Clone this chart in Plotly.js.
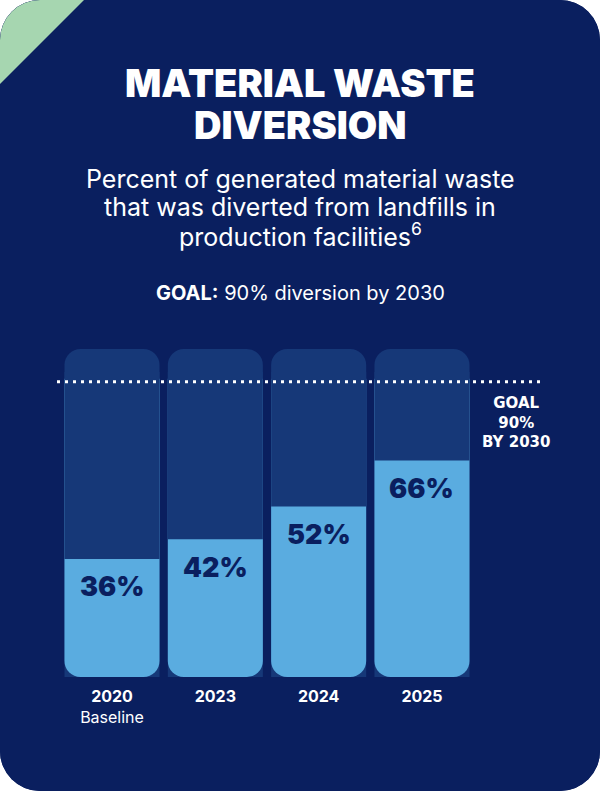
<!DOCTYPE html>
<html>
<head>
<meta charset="utf-8">
<script src="https://cdn.plot.ly/plotly-3.0.1.min.js"></script>
<style>
  html, body { margin: 0; padding: 0; background: #ffffff; }
  #card {
    width: 600px; height: 791px;
    border-radius: 40px; overflow: hidden;
    background: #0a1f5f;
  }
  #chart { width: 600px; height: 791px; }
</style>
</head>
<body>
<div id="card"><div id="chart"></div></div>
<script>
// Share of generated material waste diverted from landfill, by year
const years = ['2020', '2023', '2024', '2025'];
const tickLabels = ['<b>2020</b><br>Baseline', '<b>2023</b>', '<b>2024</b>', '<b>2025</b>'];
const diversionPct = [36, 42, 52, 66];
const fullScale = [100, 100, 100, 100];
const goalPct = 90;

const NAVY = '#0a1f5f';
const TRACK = '#163878';
const FILL = '#5aace0';
const GREEN = '#a6d6b0';
const W = 600, H = 791;
const py = px => 1 - px / H;   // pixel row -> paper y
const pxX = px => px / W;      // pixel column -> paper x
const PLOT_DOMAIN = [py(677), py(349)];
const BODY_HEADROOM = 10;      // y2 extends this far above its zero line
const COVER_TOP = 93;          // square cover stops below the rounded track top

// Layer 1 (y): full-height dark track, rounded at the top
const track = {
  type: 'bar', x: years, yaxis: 'y', y: fullScale,
  marker: { color: TRACK, cornerradius: 16, line: { width: 0 } },
  hoverinfo: 'skip', showlegend: false
};

// Layer 2 (y2): light column body hanging from y2's zero line to the floor,
// so each bar's rounded end is the bottom
const body = {
  type: 'bar', x: years, yaxis: 'y2',
  y: fullScale.map(v => -v),
  marker: { color: FILL, cornerradius: 16, line: { width: 0 } },
  customdata: diversionPct,
  hovertemplate: '%{x}: %{customdata}% diverted<extra></extra>',
  showlegend: false
};

// Layer 3 (y3, 0-100%): dark cover from the achieved level upward, leaving
// the light fill visible from 0 up to each year's diversion share
const cover = {
  type: 'bar', x: years, yaxis: 'y3',
  base: diversionPct,
  y: diversionPct.map(v => COVER_TOP - v),
  marker: { color: TRACK, line: { width: 0 } },
  hoverinfo: 'skip', showlegend: false
};

const valueLabels = years.map((yr, i) => ({
  xref: 'x', yref: 'y3', x: i, y: diversionPct[i],
  xanchor: 'center', yanchor: 'middle', yshift: -28,
  text: diversionPct[i] + '%', showarrow: false,
  font: { family: 'Inter, sans-serif', size: 27, color: NAVY, weight: 900 }
}));

const subtitleLines = [
  'Percent of generated material waste',
  'that was diverted from landfills in',
  'production facilities<sup>6</sup>'
];
const subtitleRows = [179, 207, 235];

const textAnnotations = [
  { xref: 'paper', yref: 'paper', x: 0.5, y: py(83), xanchor: 'center', yanchor: 'middle',
    text: 'MATERIAL WASTE', showarrow: false,
    font: { family: 'Inter, sans-serif', size: 38, color: '#ffffff', weight: 900 } },
  { xref: 'paper', yref: 'paper', x: 0.5, y: py(125), xanchor: 'center', yanchor: 'middle',
    text: 'DIVERSION', showarrow: false,
    font: { family: 'Inter, sans-serif', size: 38, color: '#ffffff', weight: 900 } }
].concat(subtitleLines.map((t, i) => ({
    xref: 'paper', yref: 'paper', x: 0.5, y: py(subtitleRows[i]),
    xanchor: 'center', yanchor: 'middle', text: t, showarrow: false,
    font: { family: 'Inter, sans-serif', size: 25, color: '#ffffff' }
  }))).concat([
  { xref: 'paper', yref: 'paper', x: 0.5, y: py(293), xanchor: 'center', yanchor: 'middle',
    text: '<b>GOAL:</b> 90% diversion by 2030', showarrow: false,
    font: { family: 'Inter, sans-serif', size: 20, color: '#ffffff' } },
  { xref: 'paper', yref: 'y3', x: pxX(516), y: goalPct, xanchor: 'center', yanchor: 'top', yshift: -10,
    align: 'center', text: '<b>GOAL<br>90%<br>BY 2030</b>', showarrow: false,
    font: { family: 'DejaVu Sans, sans-serif', size: 15, color: '#ffffff' } }
]);

const hiddenAxis = {
  domain: PLOT_DOMAIN,
  showgrid: false, zeroline: false, showline: false, showticklabels: false,
  fixedrange: true
};

const layout = {
  width: W, height: H,
  margin: { l: 0, r: 0, t: 0, b: 0, pad: 0 },
  paper_bgcolor: NAVY, plot_bgcolor: 'rgba(0,0,0,0)',
  barmode: 'overlay', bargap: 0.08,
  xaxis: {
    type: 'category', range: [-1.084, 4.723],
    tickvals: years, ticktext: tickLabels,
    showgrid: false, zeroline: false, showline: false, ticks: '',
    ticklabelstandoff: 8,
    tickfont: { family: 'Inter, sans-serif', size: 16, color: '#ffffff' },
    fixedrange: true
  },
  yaxis: Object.assign({ range: [0, 100] }, hiddenAxis),
  yaxis2: Object.assign({ range: [-100, BODY_HEADROOM], overlaying: 'y' }, hiddenAxis),
  yaxis3: Object.assign({ range: [0, 100], overlaying: 'y' }, hiddenAxis),
  shapes: [
    { type: 'path', xref: 'paper', yref: 'paper', layer: 'below',
      path: `M 0 1 L 0 ${py(84)} L ${pxX(84)} 1 Z`,
      fillcolor: GREEN, line: { width: 0 } },
    { type: 'line', xref: 'paper', yref: 'y3', layer: 'above',
      x0: pxX(57), x1: pxX(544), y0: goalPct, y1: goalPct,
      line: { color: '#ffffff', width: 3, dash: '3px,5px' } }
  ],
  annotations: textAnnotations.concat(valueLabels)
};

Plotly.newPlot('chart', [track, body, cover], layout, { displayModeBar: false, responsive: false });
</script>
</body>
</html>
